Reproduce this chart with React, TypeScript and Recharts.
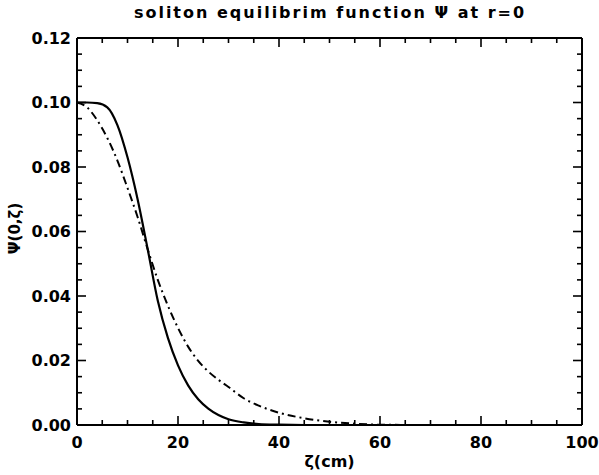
import { LineChart, Line, XAxis, YAxis, ReferenceLine, Label } from 'recharts';

// ζ samples (cm) and the two ψ(0,ζ) profiles
const zeta = [0, 2, 4, 6, 8, 10, 12, 14, 16, 18, 20, 22, 24, 26, 28, 30, 33, 36, 40, 45, 50, 55, 60, 70, 80, 100];
const psiSolid = [0.1, 0.1, 0.0998, 0.0985, 0.093, 0.083, 0.07, 0.0545, 0.0385, 0.027, 0.0185, 0.0123, 0.008, 0.0051, 0.0031, 0.0018, 0.0008, 0.0003, 0.0001, 0, 0, 0, 0, 0, 0, 0];
const psiDashDot = [0.1, 0.0985, 0.0945, 0.089, 0.082, 0.0735, 0.0645, 0.0545, 0.045, 0.037, 0.0301, 0.0243, 0.0199, 0.0166, 0.014, 0.0118, 0.0083, 0.006, 0.0038, 0.0021, 0.001, 0.0004, 0.0001, 0, 0, 0];

const xTicks = [0, 5, 10, 15, 20, 25, 30, 35, 40, 45, 50, 55, 60, 65, 70, 75, 80, 85, 90, 95, 100];
const yTicks = [0, 0.005, 0.01, 0.015, 0.02, 0.025, 0.03, 0.035, 0.04, 0.045, 0.05, 0.055, 0.06, 0.065, 0.07, 0.075, 0.08, 0.085, 0.09, 0.095, 0.1, 0.105, 0.11, 0.115, 0.12];

const data = zeta.map((z, i) => ({ zeta: z, solid: psiSolid[i], dashdot: psiDashDot[i] }));

const W = 599;
const H = 475;
const PLOT_L = 77;
const PLOT_R = 582;
const PLOT_T = 38;
const PLOT_B = 425;
const FONT = '"DejaVu Sans", sans-serif';

const YTick = (props: any) => {
  const { payload, index } = props;
  const y = payload.coordinate;
  const major = index % 4 === 0;
  const len = major ? 9 : 5;
  return (
    <g>
      <line x1={PLOT_L} x2={PLOT_L + len} y1={y} y2={y} stroke="#000" strokeWidth={1.6} />
      <line x1={PLOT_R} x2={PLOT_R - len} y1={y} y2={y} stroke="#000" strokeWidth={1.6} />
      {major && (
        <text x={PLOT_L - 6} y={y} dy="0.36em" textAnchor="end" fontSize={16} fontWeight="bold" fontFamily={FONT} fill="#000">
          {payload.value.toFixed(2)}
        </text>
      )}
    </g>
  );
};

const XTick = (props: any) => {
  const { payload, index } = props;
  const x = payload.coordinate;
  const major = index % 4 === 0;
  const len = major ? 9 : 5;
  return (
    <g>
      <line x1={x} x2={x} y1={PLOT_B} y2={PLOT_B - len} stroke="#000" strokeWidth={1.6} />
      <line x1={x} x2={x} y1={PLOT_T} y2={PLOT_T + len} stroke="#000" strokeWidth={1.6} />
      {major && (
        <text x={x} y={PLOT_B + 23} textAnchor="middle" fontSize={16} fontWeight="bold" fontFamily={FONT} fill="#000">
          {payload.value}
        </text>
      )}
    </g>
  );
};

const YTitle = () => (
  <text
    transform={`translate(20, ${(PLOT_T + PLOT_B) / 2 - 3}) rotate(-90)`}
    textAnchor="middle"
    fontSize={15}
    fontWeight="bold"
    fontFamily={FONT}
    fill="#000"
  >
    Ψ(0,ζ)
  </text>
);

export default function App() {
  return (
    <div style={{ position: 'absolute', left: 0, top: 0, width: W, height: H, background: '#fff' }}>
      <div
        style={{
          position: 'absolute', left: 0, width: 2 * 330, top: 3, textAlign: 'center',
          fontFamily: FONT, fontSize: 16, fontWeight: 'bold', letterSpacing: 2, color: '#000',
        }}
      >
        soliton equilibrim function Ψ at r=0
      </div>
      <LineChart
        width={W}
        height={H}
        data={data}
        margin={{ top: PLOT_T, right: W - PLOT_R, left: PLOT_L - 60, bottom: H - PLOT_B - 30 }}
      >
        <XAxis
          dataKey="zeta"
          type="number"
          domain={[0, 100]}
          ticks={xTicks}
          interval={0}
          height={30}
          tick={<XTick />}
          tickLine={false}
          axisLine={{ stroke: '#000', strokeWidth: 2 }}
        >
          <Label value="ζ(cm)" position="insideBottom" offset={-12} fontSize={16} fontWeight="bold" fontFamily={FONT} fill="#000" />
        </XAxis>
        <YAxis
          type="number"
          domain={[0, 0.12]}
          ticks={yTicks}
          interval={0}
          width={60}
          tick={<YTick />}
          tickLine={false}
          axisLine={{ stroke: '#000', strokeWidth: 2 }}
        >
          <Label content={<YTitle />} />
        </YAxis>
        <ReferenceLine y={0.12} stroke="#000" strokeWidth={2} />
        <ReferenceLine x={100} stroke="#000" strokeWidth={2} />
        <Line
          type="monotone"
          dataKey="solid"
          stroke="#000"
          strokeWidth={2.2}
          dot={false}
          isAnimationActive={false}
        />
        <Line
          type="monotone"
          dataKey="dashdot"
          stroke="#000"
          strokeWidth={2}
          strokeDasharray="8 4 2 4"
          dot={false}
          isAnimationActive={false}
        />
      </LineChart>
    </div>
  );
}
